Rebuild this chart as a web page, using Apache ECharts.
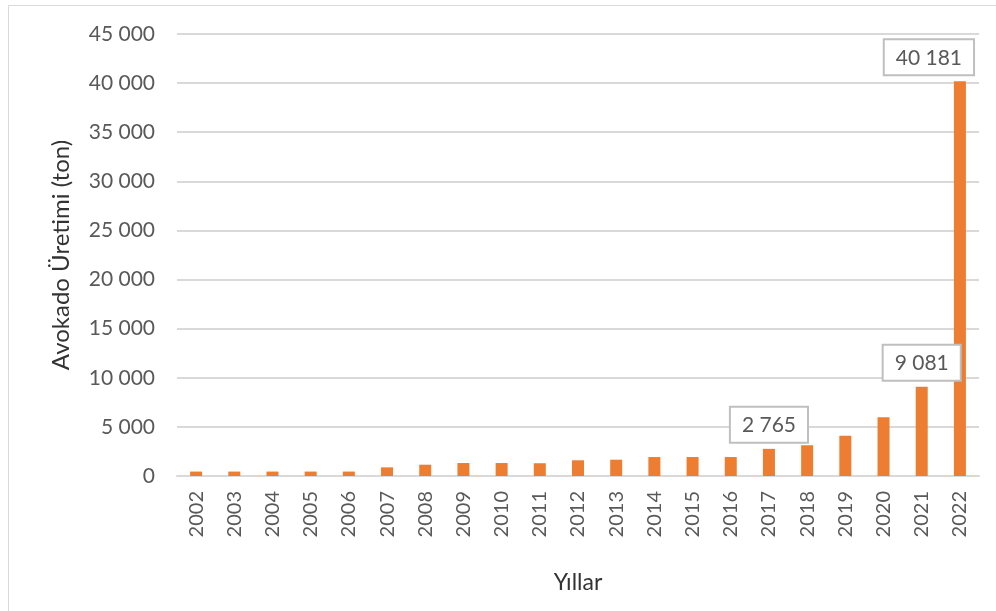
<!DOCTYPE html>
<html>
<head>
<meta charset="utf-8">
<script src="https://cdn.jsdelivr.net/npm/echarts@6/dist/echarts.min.js"></script>
<style>
  html, body { margin: 0; padding: 0; background: #fff; }
  #chart { width: 996px; height: 611px; }
</style>
</head>
<body>
<div id="chart"></div>
<script>
var years = ['2002','2003','2004','2005','2006','2007','2008','2009','2010','2011',
  '2012','2013','2014','2015','2016','2017','2018','2019','2020','2021','2022'];
var production = [450, 450, 450, 450, 450, 880, 1150, 1320, 1320, 1300,
  1600, 1660, 1930, 1930, 1930, 2765, 3130, 4100, 5980, 9081, 40181];
var labelledYears = ['2017', '2021', '2022'];
var yTicks = { min: 0, max: 45000, interval: 5000 };

function fmt(v) {
  return String(v).replace(/\B(?=(\d{3})+(?!\d))/g, ' ');
}

var chart = echarts.init(document.getElementById('chart'));

// only a few bars carry a boxed value label
var barData = production.map(function (v, i) {
  var item = { value: v };
  if (labelledYears.indexOf(years[i]) >= 0) {
    item.label = {
      show: true,
      position: 'top',
      distance: 7,
      offset: years[i] === '2022' ? [-31, 0] : [0, 0]
    };
  }
  return item;
});

var option = {
  animation: false,
  textStyle: { fontFamily: 'Lato' },
  graphic: [{
    type: 'rect',
    shape: { x: 8.5, y: 5.5, width: 1000, height: 700 },
    style: { fill: 'none', stroke: '#d9d9d9', lineWidth: 1 }
  }],
  grid: { left: 177, right: 17, top: 34, bottom: 135 },
  xAxis: {
    type: 'category',
    data: years,
    name: 'Yıllar',
    nameLocation: 'middle',
    nameGap: 95,
    nameTextStyle: { fontSize: 23, color: '#333333', fontFamily: 'Lato' },
    axisLine: { lineStyle: { color: '#d9d9d9', width: 2 } },
    axisTick: { show: false },
    axisLabel: { rotate: 90, fontSize: 20, color: '#595959', margin: 15 }
  },
  yAxis: {
    type: 'value',
    min: yTicks.min,
    max: yTicks.max,
    interval: yTicks.interval,
    name: 'Avokado Üretimi (ton)',
    nameLocation: 'middle',
    nameGap: 104,
    nameTextStyle: { fontSize: 24, color: '#333333', fontFamily: 'Lato' },
    axisLine: { show: false },
    axisTick: { show: false },
    axisLabel: { fontSize: 21, color: '#595959', margin: 22, formatter: fmt },
    splitLine: { lineStyle: { color: '#d9d9d9', width: 2 } }
  },
  series: [{
    type: 'bar',
    data: barData,
    barWidth: 12,
    itemStyle: { color: '#ED7D31' },
    label: {
      show: false,
      formatter: function (p) { return fmt(p.value); },
      fontSize: 21,
      color: '#595959',
      backgroundColor: '#fff',
      borderColor: '#bfbfbf',
      borderWidth: 2,
      padding: [7, 11, 6, 11]
    }
  }]
};

chart.setOption(option);
window.addEventListener('resize', function () { chart.resize(); });
</script>
</body>
</html>
